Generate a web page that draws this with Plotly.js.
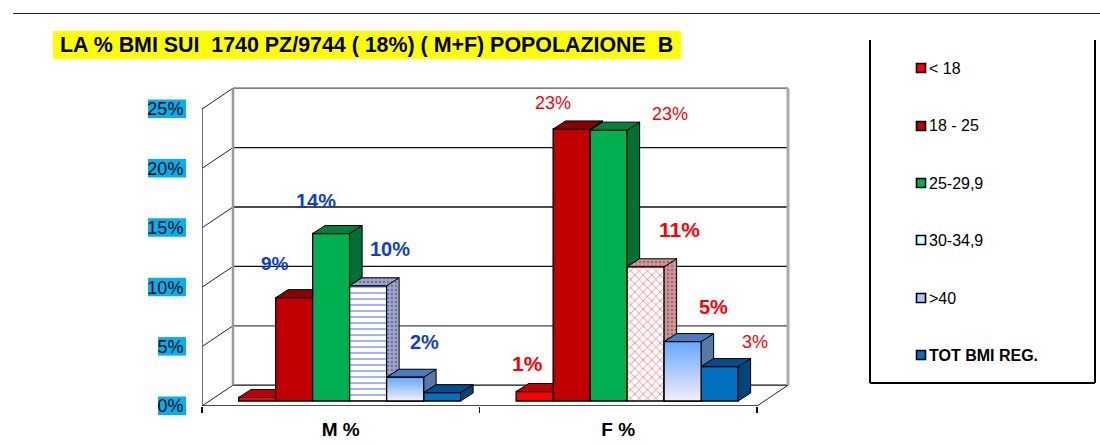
<!DOCTYPE html>
<html><head><meta charset="utf-8"><script src="https://cdn.plot.ly/plotly-3.0.1.min.js"></script>
<style>html,body{margin:0;padding:0;background:#fff}#c{width:1100px;height:446px}</style></head>
<body><div id="c"></div><script>
const categories = ['M %', 'F %'];
const seriesNames = ['< 18', '18 - 25', '25-29,9', '30-34,9', '>40', 'TOT BMI REG.'];
const under18 = [0.3, 0.8];
const bmi18to25 = [8.7, 22.9];
const bmi25to29 = [14.1, 22.8];
const bmi30to34 = [9.7, 11.3];
const over40 = [2.0, 5.0];
const totBmiReg = [0.7, 2.9];
const yTicks = [0, 5, 10, 15, 20, 25];
const yTickText = ['0%', '5%', '10%', '15%', '20%', '25%'];
const labelsM = ['9%', '14%', '10%', '2%'];
const labelsF = ['1%', '23%', '23%', '11%', '5%', '3%'];

const W = 1100, H = 446, L = 202, R = 801, T = 80, B = 406;
const pxPerCat = 277.5, pxPerVal = 11.88;
const px = v => (v - L) / (R - L), py = v => (B - v) / (B - T);
const FONT = '"Liberation Sans", Arial, sans-serif';
const all = [under18, bmi18to25, bmi25to29, bmi30to34, over40, totBmiReg];
const fronts = ['#ff0000', '#c00000', '#00b050', '#ffffff', '#ffffff', '#0070c0'];
const tops = ['#c00000', '#8b0000', '#008038', '#a8a8c8', '#4a7abf', '#004f8c'];
const sides = ['#a00000', '#800000', '#007034', '#a8a8c8', '#557aa8', '#00457c'];
const swatch = ['#ff0000', '#c00000', '#00b050', '#ccffff', '#a9c8f5', '#0070c0'];
const patternColor = ['#5a70f0', '#ff4040'];

const base = 5 / pxPerVal, dx = 12.5 / pxPerCat, dy = 8 / pxPerVal;
const groupShift = 0.532, barW = 0.8 / 6;
const wallDx = 31 / pxPerCat, wallDy = 1.75;
const xPos = categories.map((_, i) => i + groupShift);
const traces = [];

all.forEach((vals, j) => {
  const isPat = j === 3;
  traces.push({
    type: 'bar', name: seriesNames[j], x: xPos, y: vals, base: [base, base],
    marker: {
      color: fronts[j], line: {color: '#000', width: 1.3},
      pattern: isPat ? {shape: ['-', 'x'], fgcolor: patternColor, bgcolor: '#fff', size: 6, solidity: 0.18, fillmode: 'replace'} : undefined
    },
    hoverinfo: 'x+y', showlegend: false
  });
});

function face(xs, ys, color, i, j) {
  const t = {type: 'scatter', mode: 'lines', x: xs, y: ys, fill: 'toself', fillcolor: color,
    line: {color: '#000', width: 1}, hoverinfo: 'skip', showlegend: false};
  if (j === 3) t.fillpattern = {shape: '.', fgcolor: patternColor[i], bgcolor: '#a8a8a8', size: 4, solidity: 0.3};
  return t;
}
all.forEach((vals, j) => {
  vals.forEach((v, i) => {
    const xl = xPos[i] + (j - 3) * barW, xr = xl + barW, t = base + v;
    const nextTop = j < 5 ? base + all[j + 1][i] : base;
    const covered = j < 5 && nextTop > t;
    if (!covered) {
      const b = j < 5 ? nextTop : base;
      traces.push(face([xr, xr, xr + dx, xr + dx, xr], [b, t, t + dy, b + dy, b], sides[j], i, j));
    }
    const topX = covered && nextTop > t + dy ? [xl, xr, xr, xl + dx, xl] : [xl, xr, xr + dx, xl + dx, xl];
    traces.push(face(topX, [t, t, t + dy, t + dy, t], tops[j], i, j));
    if (j === 4) {
      traces.push({type: 'scatter', mode: 'lines', x: [xl, xr, xr, xl, xl], y: [base, base, t, t, base],
        fill: 'toself', line: {color: '#000', width: 1.3}, hoverinfo: 'skip', showlegend: false,
        fillgradient: {type: 'vertical', colorscale: [[0, '#f3eef8'], [1, '#66a8ff']]}});
    }
  });
});

const shapes = [];
const line = (x0, y0, x1, y1, color, width, ref) => shapes.push({type: 'line', xref: ref || 'x', yref: ref || 'y', x0, y0, x1, y1,
  line: {color, width}, layer: 'below'});
yTicks.forEach(v => {
  line(0, v, wallDx, v + wallDy, '#222', 1);
  line(wallDx, v + wallDy, 2 + wallDx, v + wallDy, v === 25 ? '#555' : (v === 5 ? '#444' : '#111'), 1.3);
});
line(wallDx, wallDy, wallDx, 25 + wallDy, '#999', 2.5);
line(2 + wallDx, wallDy, 2 + wallDx, 25 + wallDy, '#aaa', 3);
line(0, 0, 0, 25, '#444', 1.5);
line(0, 0, 2, 0, '#111', 1.5);
line(2, 0, 2 + wallDx, wallDy, '#222', 1);
// page rule, title band and tick-label bands
line(px(13), py(13.5), px(1100), py(13.5), '#222', 1, 'paper');
const rect = (x0, y0, x1, y1, fill, lc, lw) => shapes.push({type: 'rect', xref: 'paper', yref: 'paper',
  x0: px(x0), x1: px(x1), y0: py(y0), y1: py(y1), fillcolor: fill, line: {color: lc || fill, width: lw || 0}, layer: 'below'});
rect(53, 31, 681, 59, '#ffff00');
yTicks.forEach((v, k) => {
  const c = B - v * pxPerVal;
  rect(k === 0 || k === 1 ? 158 : 148, c - 9.5, 186, c + 9, '#00b0f0');
});
// legend frame
line(px(870), py(40), px(870), py(383), '#000', 2, 'paper');
line(px(870), py(383), px(1095), py(383), '#000', 2, 'paper');
line(px(1095), py(40), px(1095), py(383), '#000', 2, 'paper');

const ann = [];
const text = (t, x, y, size, color, bold, anchor) => ann.push({xref: 'paper', yref: 'paper', x: px(x), y: py(y), text: bold ? '<b>' + t + '</b>' : t,
  showarrow: false, xanchor: anchor || 'center', yanchor: 'middle', font: {family: FONT, size, color}, borderpad: 0});
text('LA % BMI SUI  1740 PZ/9744 ( 18%) ( M+F) POPOLAZIONE  B', 366, 45, 21.4, '#000', true);
const blue = '#0f3fc8', red = '#ff0000';
[[275, 263, 19, true], [316, 201, 20, true], [390, 249, 20, true], [424, 342, 20, true]].forEach((p, k) => text(labelsM[k], p[0], p[1], p[2], blue, p[3]));
[[527, 363, 21, true], [553, 103, 18, false], [670, 114, 18, false], [679, 229, 21, true], [713, 307, 20, true], [755, 342, 18, false]].forEach((p, k) => text(labelsF[k], p[0], p[1], p[2], red, p[3]));
const legendY = [68, 126, 183, 240, 298, 355];
seriesNames.forEach((n, k) => {
  rect(916.5, legendY[k] - 4.5, 925.5, legendY[k] + 4.5, swatch[k], '#000', 1.6);
  text(n, 928, legendY[k], 16, '#000', k === 5, 'left');
});

Plotly.newPlot('c', traces, {
  width: W, height: H, autosize: false, showlegend: false,
  paper_bgcolor: '#fff', plot_bgcolor: 'rgba(0,0,0,0)',
  margin: {l: L, r: W - R, t: T, b: H - B, pad: 0},
  barmode: 'group', bargap: 0.2, bargroupgap: 0,
  font: {family: FONT, color: '#000'},
  xaxis: {range: [0, (R - L) / pxPerCat], tickmode: 'array', tickvals: [0.5, 1.5], ticktext: categories, ticks: '',
    showgrid: false, zeroline: false, showline: false, tickfont: {family: FONT, size: 19, color: '#000', weight: 700},
    ticklabelstandoff: 10,
    minor: {tickmode: 'array', tickvals: [0, 1, 2], ticks: 'outside', ticklen: 6, tickwidth: 1.3, tickcolor: '#111', showgrid: false}},
  yaxis: {range: [0, (B - T) / pxPerVal], tickmode: 'array', tickvals: yTicks, ticktext: yTickText, ticks: 'outside', ticklen: 14,
    tickcolor: 'rgba(0,0,0,0)', showgrid: false, zeroline: false, showline: false, tickfont: {family: FONT, size: 18, color: '#000'}},
  shapes, annotations: ann
}, {displayModeBar: false, staticPlot: true});
</script></body></html>
